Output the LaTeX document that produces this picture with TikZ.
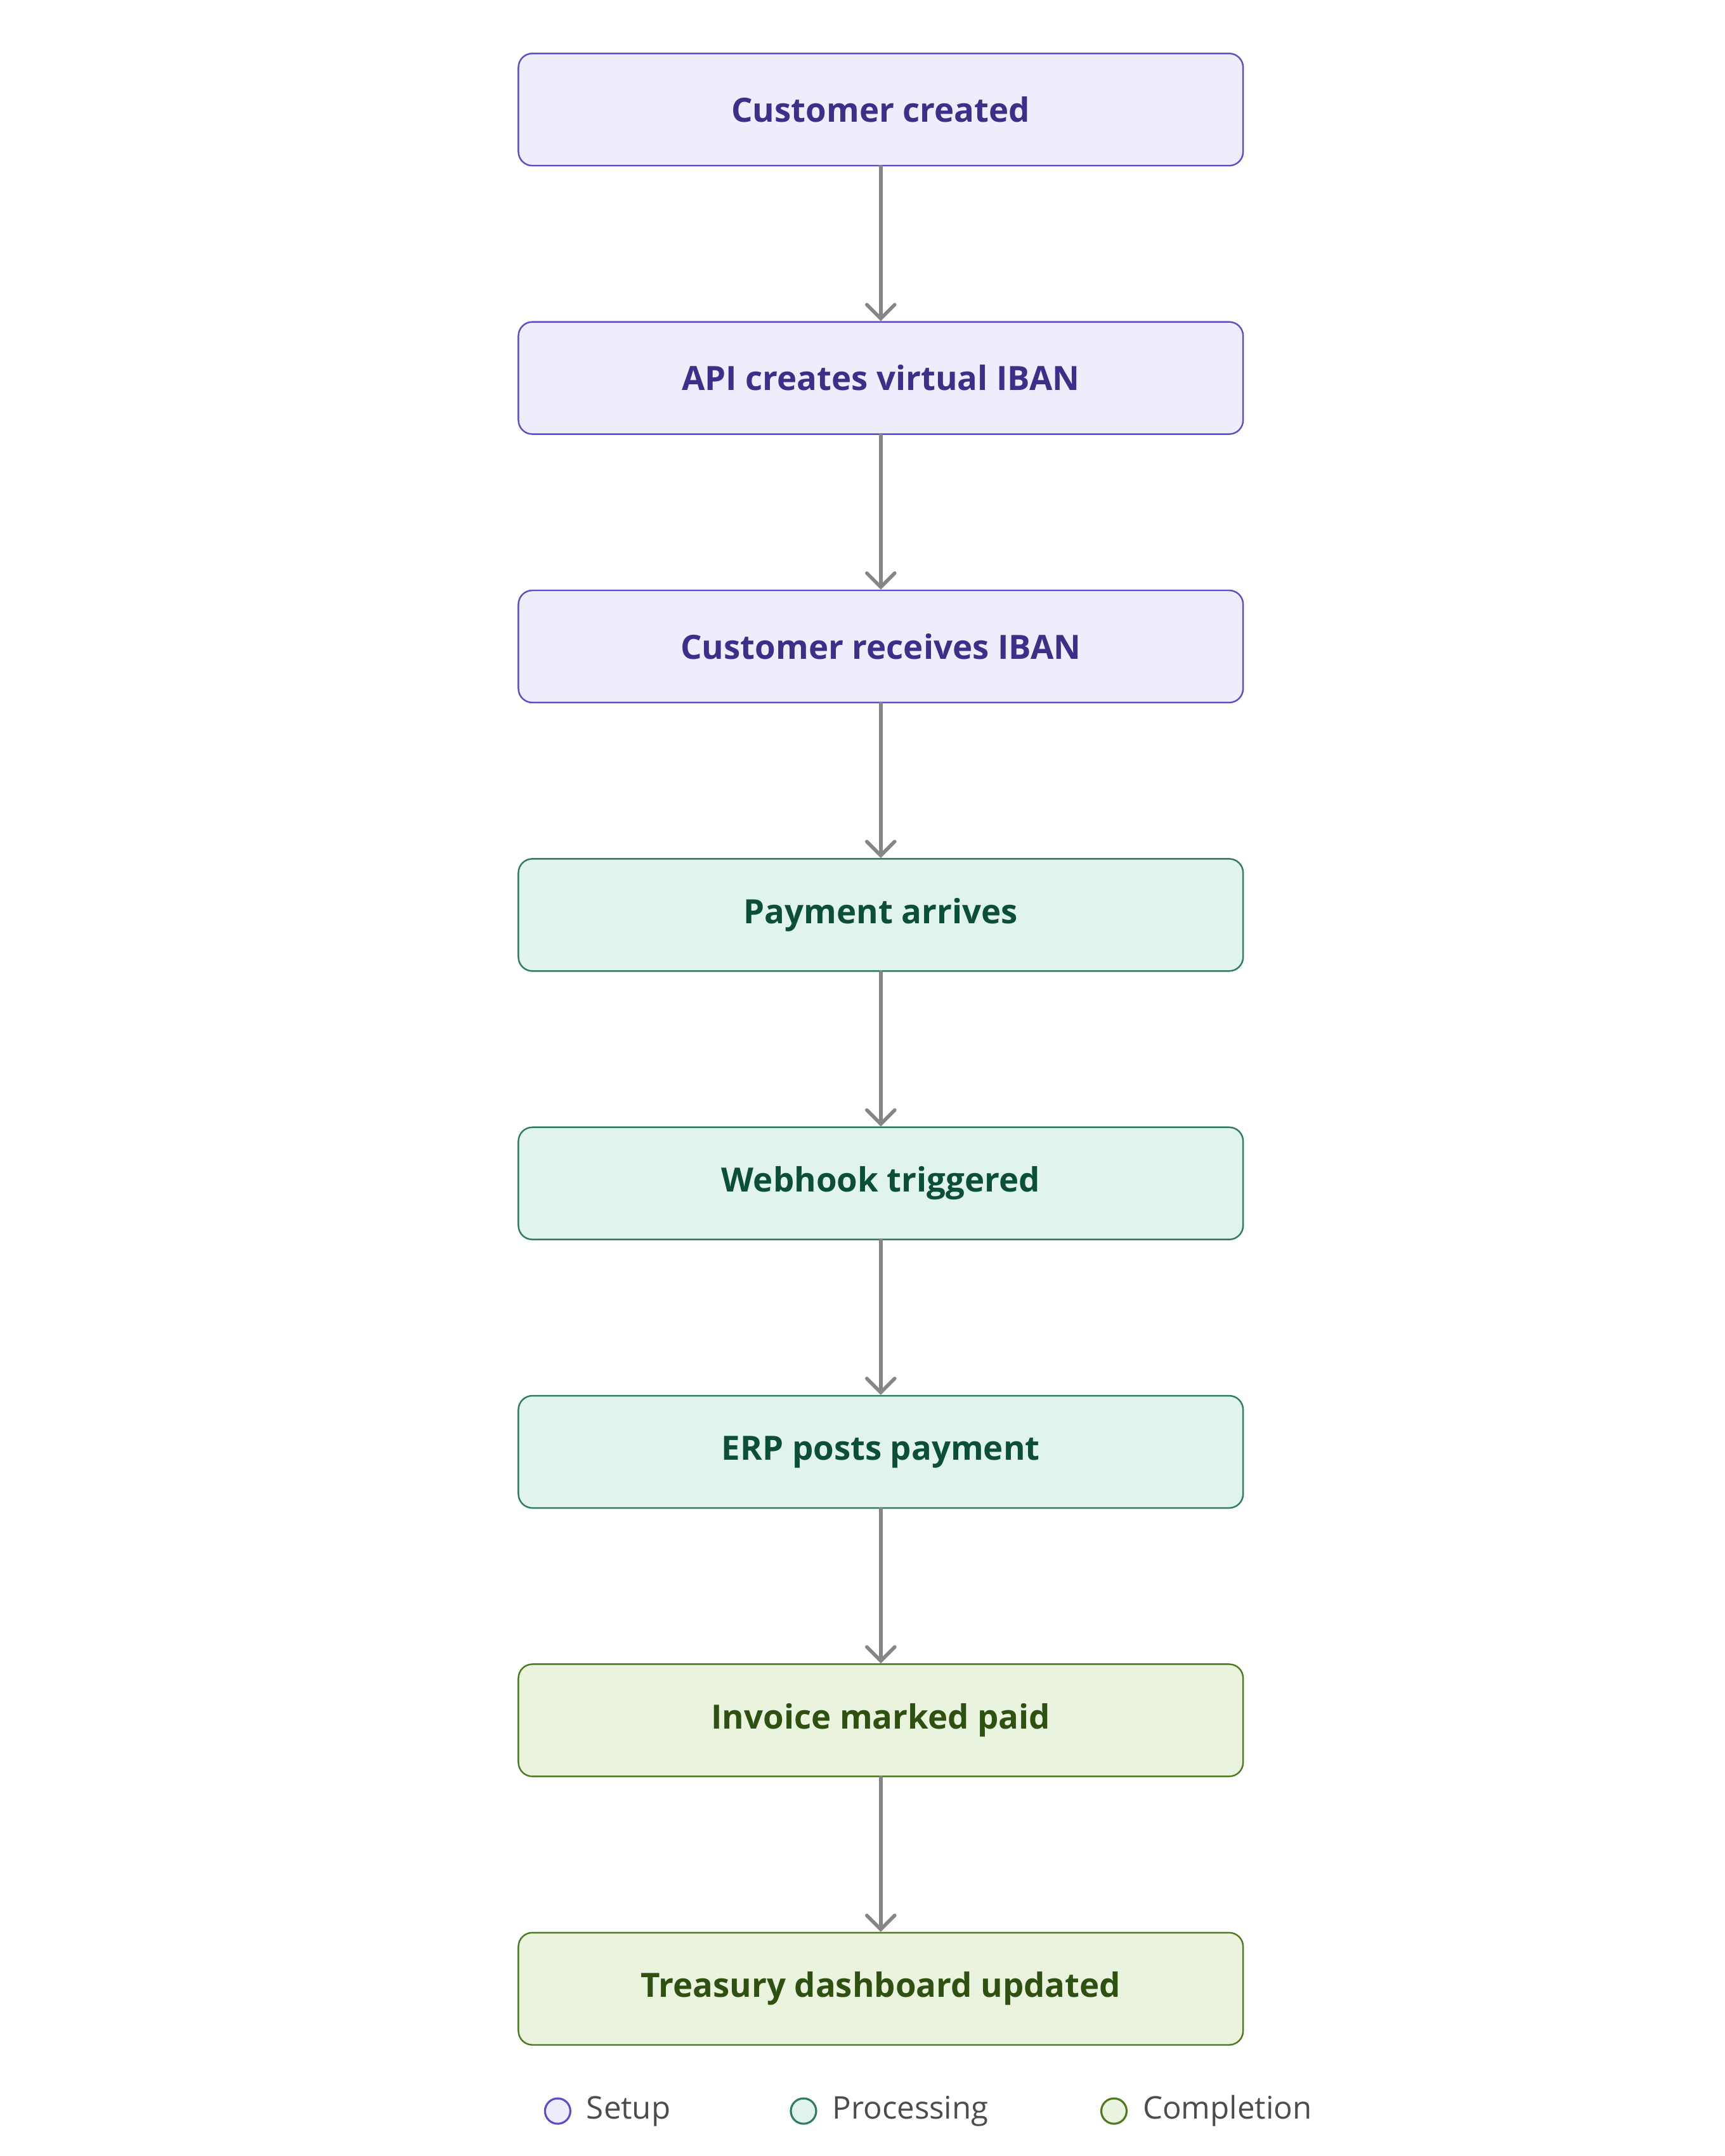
\documentclass[tikz,border=0pt]{standalone}
\usepackage{fontspec}
\setmainfont{Open Sans}
\usetikzlibrary{arrows.meta,positioning}

\definecolor{setupfill}{HTML}{EEEDFB}
\definecolor{setupdraw}{HTML}{5B4FC9}
\definecolor{setuptext}{HTML}{3B2F8A}
\definecolor{procfill}{HTML}{E1F3EE}
\definecolor{procdraw}{HTML}{2E7D5B}
\definecolor{proctext}{HTML}{0B4F3A}
\definecolor{compfill}{HTML}{EAF3DE}
\definecolor{compdraw}{HTML}{4E7A1F}
\definecolor{comptext}{HTML}{2E5010}

\begin{document}
\begin{tikzpicture}[
  x=0.02215cm, y=-0.02215cm,
  stage/.style={rectangle, draw, rounded corners=0.22cm, minimum width=11.43cm, minimum height=1.77cm, align=center, font=\fontsize{15}{18}\selectfont\bfseries, line width=0.7pt},
  setup/.style={stage, fill=setupfill, draw=setupdraw, text=setuptext},
  proc/.style={stage, fill=procfill, draw=procdraw, text=proctext},
  comp/.style={stage, fill=compfill, draw=compdraw, text=comptext},
  arrow/.style={-{Straight Barb[length=2.2mm, width=4.4mm, line cap=round]}, line width=1.6pt, draw=gray!95, line cap=round},
  dot/.style={circle, draw, line width=0.9pt, minimum size=0.4cm, inner sep=0pt},
  key/.style={anchor=west, font=\fontsize{14}{17}\selectfont, text=black!70},
  node distance=2.44cm
]
\useasboundingbox (0,0) rectangle (1228,1535);

\node[setup] (created) at (627,78) {Customer created};
\node[setup, below=of created] (iban) {API creates virtual IBAN};
\node[setup, below=of iban] (receives) {Customer receives IBAN};
\node[proc, below=of receives] (arrives) {Payment arrives};
\node[proc, below=of arrives] (webhook) {Webhook triggered};
\node[proc, below=of webhook] (erp) {ERP posts payment};
\node[comp, below=of erp] (invoice) {Invoice marked paid};
\node[comp, below=of invoice] (treasury) {Treasury dashboard updated};

\draw[arrow] (created) -- (iban);
\draw[arrow] (iban) -- (receives);
\draw[arrow] (receives) -- (arrives);
\draw[arrow] (arrives) -- (webhook);
\draw[arrow] (webhook) -- (erp);
\draw[arrow] (erp) -- (invoice);
\draw[arrow] (invoice) -- (treasury);

% legend
\node[dot, fill=setupfill, draw=setupdraw] (dsetup) at (397,1503) {};
\node[key] (ksetup) at (412,1503) {Setup};
\node[dot, fill=procfill, draw=procdraw] (dproc) at (572,1503) {};
\node[key] (kproc) at (587,1503) {Processing};
\node[dot, fill=compfill, draw=compdraw] (dcomp) at (793,1503) {};
\node[key] (kcomp) at (808,1503) {Completion};

\end{tikzpicture}
\end{document}
